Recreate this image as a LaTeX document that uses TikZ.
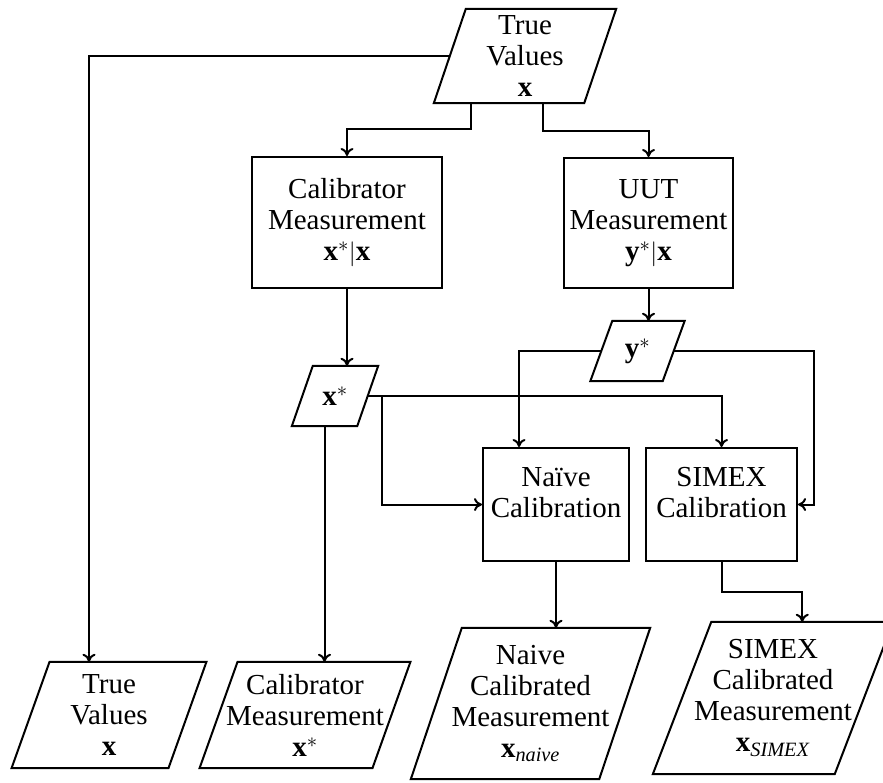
\documentclass[tikz,border=0pt]{standalone}
\usepackage{fontspec}
\setmainfont{Liberation Serif}
\usetikzlibrary{arrows.meta}

\newcommand\mainsize{\fontsize{29}{31}\selectfont}

% outline of a data (parallelogram) node: #1 node name, #2 horizontal slant offset
\newcommand\slantframe[2]{%
  \draw[dataedge] ([xshift=#2/2]#1.north west) -- ([xshift=#2/2]#1.north east)
    -- ([xshift=-#2/2]#1.south east) -- ([xshift=-#2/2]#1.south west) -- cycle;}

\tikzset{
  wire/.style={line width=2pt, -{To[length=8pt,width=13pt]}},
  procbox/.style={draw, line width=2pt, rectangle, inner sep=0pt, align=center, font=\mainsize},
  databody/.style={rectangle, inner sep=0pt, align=center, font=\mainsize},
  dataedge/.style={line width=2pt, line join=miter},
  boxtext/.style={align=center, font=\mainsize, inner sep=0pt}
}

\begin{document}
\begin{tikzpicture}[x=1pt, y=-1pt]
\useasboundingbox (0,0) rectangle (883,782);
\clip (0,0) rectangle (883,782);

% data nodes
\node[databody, minimum width=150pt, minimum height=94pt] (tvtop) at (525,56) {True\\Values\\\textbf{x}};
\slantframe{tvtop}{32pt}
\node[databody, minimum width=65pt, minimum height=60pt] (xstar) at (335,396) {\textbf{x}$^{*}$};
\slantframe{xstar}{21pt}
\node[databody, minimum width=72pt, minimum height=60pt] (ystar) at (637.5,351) {\textbf{y}$^{*}$};
\slantframe{ystar}{22pt}
\node[databody, minimum width=156.5pt, minimum height=106pt] (tvbot) at (109,715) {True\\Values\\\textbf{x}};
\slantframe{tvbot}{38pt}
\node[databody, minimum width=172.5pt, minimum height=106pt] (cmbot) at (305,715) {Calibrator\\Measurement\\\textbf{x}$^{*}$};
\slantframe{cmbot}{38pt}
\node[databody, minimum width=188pt, minimum height=151pt] (naivecal) at (530.5,703.5) {Naive\\Calibrated\\Measurement\\\textbf{x}\textsubscript{\textit{naive}}};
\slantframe{naivecal}{51pt}
\node[databody, minimum width=181.5pt, minimum height=152pt] (simexcal) at (773,698) {SIMEX\\Calibrated\\Measurement\\\textbf{x}\textsubscript{\textit{SIMEX}}};
\slantframe{simexcal}{58.5pt}

% process nodes
\node[procbox, minimum width=190pt, minimum height=131pt] (calib) at (347,222.5) {Calibrator\\Measurement\\\textbf{x}$^{*}|$\textbf{x}};
\node[procbox, minimum width=169pt, minimum height=130pt] (uut) at (648.5,223) {UUT\\Measurement\\\textbf{y}$^{*}|$\textbf{x}};
\node[procbox, minimum width=146pt, minimum height=113pt] (naive) at (556,504.5) {};
\node[boxtext] (naivetext) at (556,493) {Naïve\\Calibration};
\node[procbox, minimum width=151pt, minimum height=113pt] (simex) at (721.5,504.5) {};
\node[boxtext] (simextext) at (721.5,493) {SIMEX\\Calibration};

% connectors
\draw[wire] (tvtop.west) -| ([xshift=-20pt]tvbot.north);
\draw[wire] ([xshift=-54pt]tvtop.south) |- ([yshift=27pt]calib.north) -- (calib.north);
\draw[wire] ([xshift=18pt]tvtop.south) |- ([yshift=26pt]uut.north) -- (uut.north);
\draw[wire] (calib.south) -- (calib.south |- xstar.north);
\draw[wire] (uut.south) -- (uut.south |- ystar.north);
\draw[wire] ([xshift=-10.5pt]xstar.south) -- ([xshift=-10.5pt]xstar.south |- cmbot.north);
\draw[wire] (xstar.east) -| (simex.north);
\draw[wire] ([xshift=14.5pt]xstar.east) |- (naive.west);
\draw[wire] (ystar.west) -| ([xshift=-37pt]naive.north);
\draw[wire] (ystar.east) -| ([xshift=16pt]simex.east) -- (simex.east);
\draw[wire] (naive.south) -- (naive.south |- naivecal.north);
\draw[wire] (simex.south) |- ([xshift=29.25pt,yshift=30pt]simexcal.north) -- ([xshift=29.25pt]simexcal.north);
\end{tikzpicture}
\end{document}
